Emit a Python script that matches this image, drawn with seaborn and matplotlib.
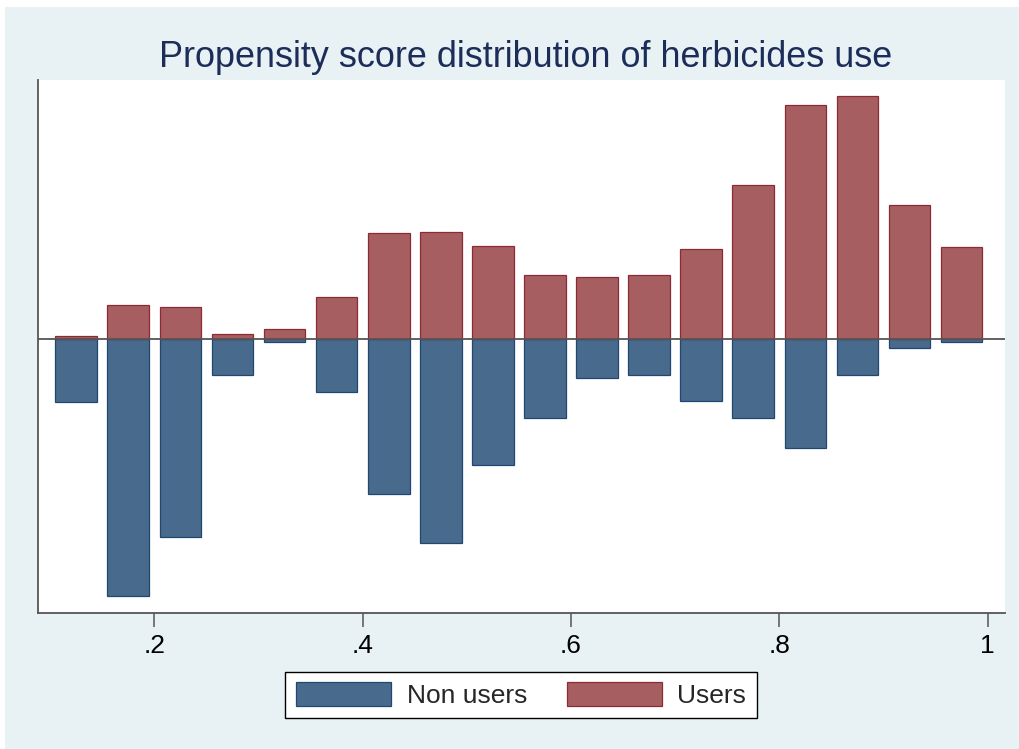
import numpy as np
import pandas as pd
import matplotlib
matplotlib.use("Agg")
import matplotlib.pyplot as plt
import seaborn as sns

# ---- data (arbitrary density units) ----
bin_centers = [0.125, 0.175, 0.225, 0.275, 0.325, 0.375, 0.425, 0.475, 0.525,
               0.575, 0.625, 0.675, 0.725, 0.775, 0.825, 0.875, 0.925, 0.975]
users = [0.022, 0.332, 0.312, 0.042, 0.092, 0.418, 1.055, 1.068, 0.922,
         0.632, 0.615, 0.632, 0.892, 1.532, 2.335, 2.425, 1.335, 0.918]
non_users = [0.632, 2.575, 1.982, 0.365, 0.035, 0.532, 1.552, 2.048, 1.262,
             0.795, 0.398, 0.362, 0.628, 0.792, 1.092, 0.362, 0.098, 0.032]
groups = ["Non users", "Users"]
tick_values = [0.2, 0.4, 0.6, 0.8, 1.0]
tick_labels = [".2", ".4", ".6", ".8", "1"]
title = "Propensity score distribution of herbicides use"

df = pd.DataFrame({
    "ps": bin_centers * 2,
    "value": [-v for v in non_users] + users,
    "group": [groups[0]] * len(non_users) + [groups[1]] * len(users),
})

BG = "#E8F1F3"
BLUE, BLUE_E = "#486A8C", "#1F4770"
RED, RED_E = "#A65E61", "#8E2A36"
AXC = "#555555"

sns.set_theme(style="white")
plt.rcParams["font.family"] = ["Liberation Sans", "DejaVu Sans"]

fig = plt.figure(figsize=(10.19, 7.49), dpi=100, facecolor="white")
fig.patches.append(plt.Rectangle((5 / 1019, -0.01), 1.01, 1.01 - 7 / 749,
                                 transform=fig.transFigure, facecolor=BG,
                                 edgecolor="none", zorder=-10))
ax = fig.add_axes([38 / 1019, 1 - 612.7 / 749, (1005 - 38) / 1019, (612.7 - 80) / 749])
ax.set_facecolor("white")

sns.barplot(data=df, x="ps", y="value", hue="group", hue_order=groups,
            palette=[BLUE, RED], native_scale=True, dodge=False, width=0.8,
            errorbar=None, saturation=1, legend=False, ax=ax, zorder=2)
edge_map = {0: BLUE_E, 1: RED_E}
for i, cont in enumerate(ax.containers):
    for p in cont:
        p.set_edgecolor(edge_map[i])
        p.set_linewidth(0.9)

ax.axhline(0, color=AXC, lw=1.3, zorder=4)
ax.set_xlim(0.0883, 1.0166)
ax.set_ylim(-2.742, 2.585)
ax.set_yticks([])
ax.set_xticks(tick_values)
ax.set_xticklabels(tick_labels, fontsize=19, color="black")
ax.tick_params(axis="x", direction="out", length=10, width=1.1, color=AXC, pad=5, bottom=True)
ax.set_xlabel("")
ax.set_ylabel("")
for s in ["top", "right"]:
    ax.spines[s].set_visible(False)
for s in ["left", "bottom"]:
    ax.spines[s].set_color(AXC)
    ax.spines[s].set_linewidth(1.3)

fig.text(525.5 / 1019, 1 - 66.7 / 749, title, ha="center", va="baseline",
         fontsize=25.9, color="#1C2D5A")

handles = [plt.Rectangle((0, 0), 1, 1, facecolor=BLUE, edgecolor=BLUE_E, lw=0.9),
           plt.Rectangle((0, 0), 1, 1, facecolor=RED, edgecolor=RED_E, lw=0.9)]
leg = fig.legend(handles, groups, loc="center", bbox_to_anchor=(521 / 1019, 1 - 695 / 749),
                 ncol=2, fontsize=19, handlelength=3.6, handleheight=1.0,
                 borderpad=0.4, handletextpad=0.6, columnspacing=1.5,
                 frameon=True, fancybox=False, framealpha=1, edgecolor="black")
leg.get_frame().set_linewidth(1.0)
leg.get_frame().set_facecolor("white")

fig.savefig("out.png", dpi=100, facecolor=fig.get_facecolor())
